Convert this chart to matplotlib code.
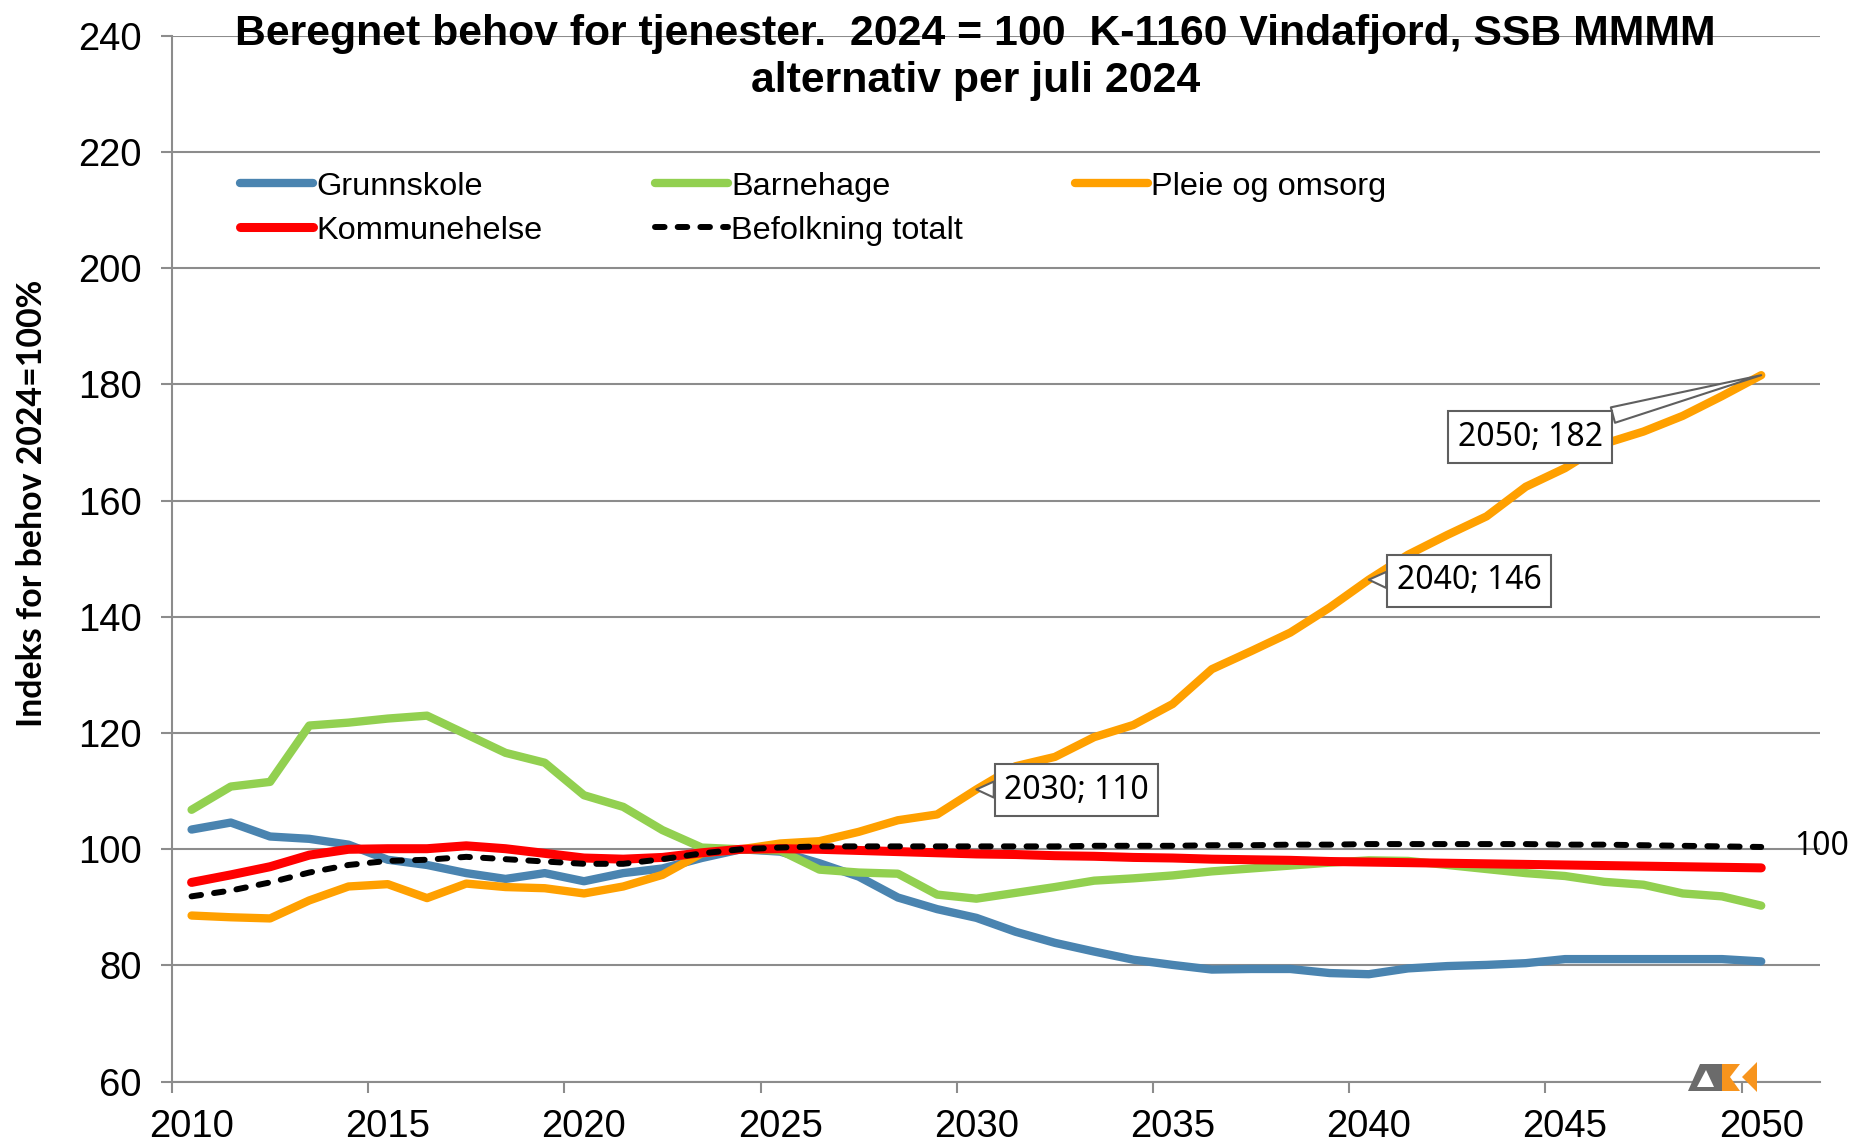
import matplotlib
matplotlib.use("Agg")
import matplotlib.pyplot as plt
from matplotlib import font_manager
from matplotlib.patches import Polygon

plt.rcParams['font.family'] = ['Liberation Sans', 'DejaVu Sans']

years = list(range(2010, 2051))

grunnskole = [103.4, 104.6, 102.2, 101.8, 100.8, 98.2, 97.3, 95.9, 94.9, 95.9,
              94.5, 95.9, 96.7, 98.5, 100.0, 99.6, 97.6, 95.3, 91.7, 89.7,
              88.2, 85.8, 83.9, 82.4, 81.0, 80.1, 79.3, 79.4, 79.4, 78.7,
              78.5, 79.5, 79.9, 80.1, 80.4, 81.1, 81.1, 81.1, 81.1, 81.1, 80.7]

barnehage = [106.8, 110.8, 111.6, 121.3, 121.8, 122.5, 123.0, 119.8, 116.6, 114.9,
             109.3, 107.3, 103.3, 100.3, 100.0, 99.8, 96.5, 96.0, 95.8, 92.2,
             91.5, 92.5, 93.5, 94.6, 95.0, 95.5, 96.2, 96.7, 97.2, 97.7,
             98.1, 98.0, 97.3, 96.6, 95.9, 95.4, 94.4, 93.9, 92.4, 91.9, 90.3]

pleie = [88.6, 88.3, 88.1, 91.2, 93.6, 94.0, 91.6, 94.1, 93.5, 93.3,
         92.4, 93.6, 95.6, 99.3, 100.0, 101.0, 101.4, 103.0, 105.0, 106.0,
         110.3, 114.3, 115.9, 119.3, 121.4, 125.0, 131.0, 134.1, 137.3, 141.6,
         146.4, 150.7, 154.1, 157.3, 162.4, 165.6, 169.8, 171.9, 174.6, 178.0, 181.6]

kommunehelse = [94.3, 95.6, 97.0, 99.0, 100.0, 100.1, 100.1, 100.6, 100.1, 99.3,
                98.5, 98.3, 98.6, 99.4, 100.0, 100.1, 100.0, 99.8, 99.6, 99.4,
                99.2, 99.1, 98.9, 98.8, 98.6, 98.5, 98.3, 98.2, 98.1, 97.9,
                97.8, 97.7, 97.6, 97.5, 97.4, 97.3, 97.2, 97.1, 97.0, 96.9, 96.8]

befolkning = [91.9, 92.9, 94.3, 96.0, 97.3, 98.0, 98.2, 98.7, 98.3, 97.9,
              97.5, 97.5, 98.3, 99.3, 100.0, 100.3, 100.5, 100.5, 100.5, 100.5,
              100.5, 100.5, 100.5, 100.6, 100.6, 100.6, 100.7, 100.7, 100.8, 100.8,
              100.9, 100.9, 100.9, 100.9, 100.9, 100.8, 100.8, 100.7, 100.6, 100.5, 100.4]

labels = ["Grunnskole", "Barnehage", "Pleie og omsorg", "Kommunehelse", "Befolkning totalt"]
annot_years = [2030, 2040, 2050]
xtick_years = list(range(2010, 2051, 5))
yticks = list(range(60, 241, 20))

title = "Beregnet behov for tjenester.  2024 = 100  K-1160 Vindafjord, SSB MMMM\nalternativ per juli 2024"
ylabel = "Indeks for behov 2024=100%"

GRID = '#8c8c8c'

# pick a bold-capable humanist font for the axis title
bold_family = 'DejaVu Sans'
avail = {}
for f in font_manager.fontManager.ttflist:
    w = f.weight if isinstance(f.weight, int) else 400
    avail.setdefault(f.name, set()).add(w)
for cand in ['Lato', 'Open Sans', 'Noto Sans', 'Roboto', 'Liberation Sans']:
    if cand in avail and max(avail[cand]) >= 600:
        bold_family = cand
        break

fig = plt.figure(figsize=(18.51, 11.42), dpi=100)
ax = fig.add_axes([0.0929, 0.0528, 0.8904, 0.9158])
ax.set_xlim(2009.5, 2051.5)
ax.set_ylim(60, 240)

ax.set_yticks(yticks)
ax.yaxis.grid(True, color=GRID, lw=1.5)
ax.set_axisbelow(True)
for s in ['top', 'right']:
    ax.spines[s].set_visible(False)
for s in ['left', 'bottom']:
    ax.spines[s].set_color(GRID)
    ax.spines[s].set_linewidth(1.5)
ax.tick_params(axis='y', length=8, width=1.5, color=GRID, labelsize=27.5, pad=14)
ax.set_xticks(xtick_years)
ax.set_xticks([y - 0.5 for y in xtick_years], minor=True)
ax.tick_params(axis='x', which='major', length=0, labelsize=27.5, pad=20)
ax.tick_params(axis='x', which='minor', length=8, width=1.5, color=GRID)

lw = 6.0
l1, = ax.plot(years, grunnskole, color='#4A84B0', lw=lw, solid_capstyle='round', solid_joinstyle='round', zorder=3)
l2, = ax.plot(years, barnehage, color='#92D050', lw=lw, solid_capstyle='round', solid_joinstyle='round', zorder=4)
l3, = ax.plot(years, pleie, color='#FFA000', lw=lw, solid_capstyle='round', solid_joinstyle='round', zorder=5)
l4, = ax.plot(years, kommunehelse, color='#FF0000', lw=6.5, solid_capstyle='round', solid_joinstyle='round', zorder=6)
l5, = ax.plot(years, befolkning, color='black', lw=4.3, dashes=(1.6, 2.2),
              dash_capstyle='round', zorder=7)

handles = [l1, l4, l2, l5, l3]
hl = [labels[0], labels[3], labels[1], labels[4], labels[2]]
leg = fig.legend(handles, hl, loc='upper left', bbox_to_anchor=(0.1297, 0.8495),
                 ncol=3, frameon=False, fontsize=23.4, borderpad=0, borderaxespad=0,
                 handlelength=2.25, handletextpad=0.1, columnspacing=3.45, labelspacing=0.43)

# annotations for Pleie og omsorg
text_pos = {2030: (2032.55, 110.2), 2040: (2042.55, 146.2), 2050: (2044.11, 170.9)}
for yr in annot_years:
    v = pleie[years.index(yr)]
    ax.annotate(f"{yr}; {v:.0f}", xy=(yr, v), xytext=text_pos[yr],
                ha='center', va='center', fontsize=23, family='Noto Sans',
                bbox=dict(boxstyle='square,pad=0.3', fc='white', ec='#5f5f5f', lw=1.5),
                arrowprops=dict(arrowstyle='wedge,tail_width=0.5,shrink_factor=0.5',
                                fc='white', ec='#5f5f5f', lw=1.5, shrinkA=0, shrinkB=0),
                zorder=10)

ax.annotate(f"{befolkning[-1]:.0f}", xy=(years[-1], befolkning[-1]), xytext=(24, 0),
            textcoords='offset points', ha='left', va='center', fontsize=23,
            family='Noto Sans', annotation_clip=False)

fig.text(0.527, 1 - 14 / 1142, title, ha='center', va='top', fontsize=30.8,
         weight='bold', linespacing=1.24)

yl = fig.text(32 / 1851, 1 - 503 / 1142, ylabel, rotation=90, ha='center', va='center',
              fontsize=22, weight='bold', family=bold_family)
fig.canvas.draw()
ext = yl.get_window_extent(renderer=fig.canvas.get_renderer())
if ext.height > 0:
    yl.set_fontsize(22 * 446.0 / ext.height)

# small logo bottom right
W, H = 1851, 1142
def fc(pts):
    return [(x / W, 1 - y / H) for x, y in pts]
fig.patches.append(Polygon(fc([(1688, 1091), (1700, 1064), (1722, 1064), (1722, 1091)]),
                           closed=True, fc='#6b6b6b', ec='none', transform=fig.transFigure, figure=fig))
fig.patches.append(Polygon(fc([(1697, 1087), (1706, 1070), (1714, 1087)]),
                           closed=True, fc='white', ec='none', transform=fig.transFigure, figure=fig))
fig.patches.append(Polygon(fc([(1722, 1064), (1740, 1064), (1730, 1077), (1740, 1091), (1722, 1091)]),
                           closed=True, fc='#F7941D', ec='none', transform=fig.transFigure, figure=fig))
fig.patches.append(Polygon(fc([(1757, 1062), (1742, 1077), (1757, 1092)]),
                           closed=True, fc='#F7941D', ec='none', transform=fig.transFigure, figure=fig))

fig.savefig("out.png", dpi=100)
